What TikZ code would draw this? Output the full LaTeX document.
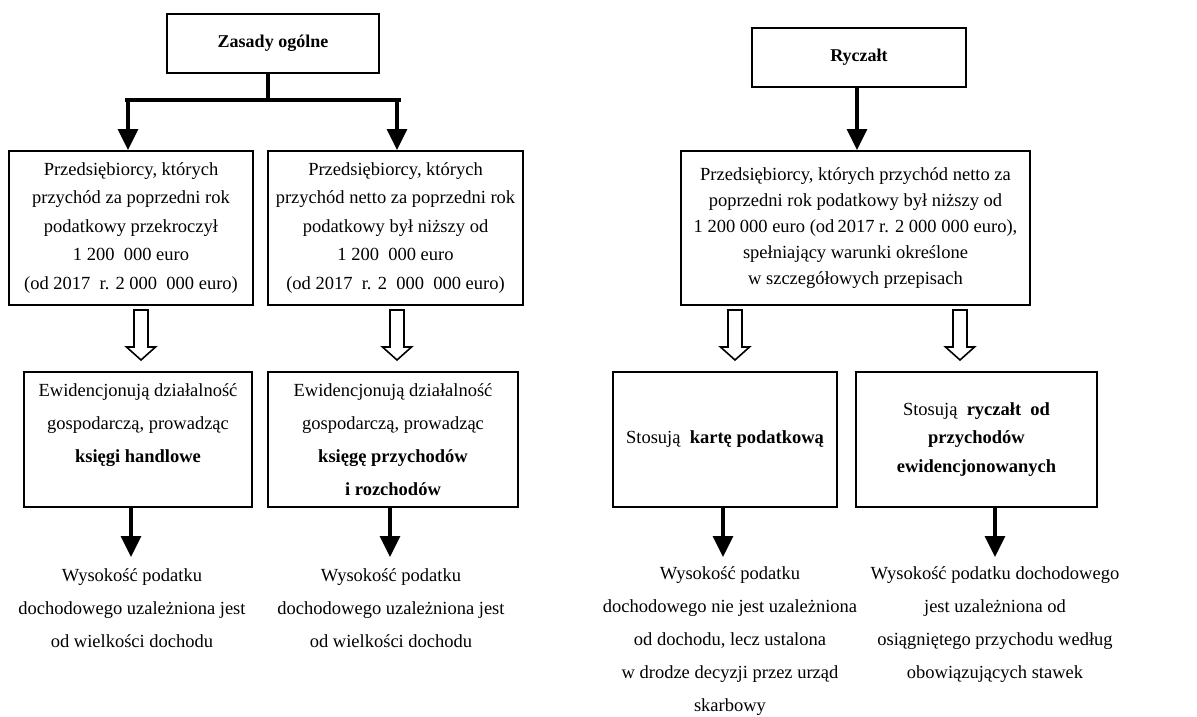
\documentclass[tikz,border=0pt]{standalone}
\usepackage{fontspec}
\setmainfont{Liberation Serif}
\usetikzlibrary{arrows.meta}
\tikzset{
  box/.style={draw, line width=2pt, align=center, inner sep=0pt},
  title/.style={box, font=\fontsize{18}{20}\selectfont\bfseries},
  conn/.style={line width=3.2pt},
  arr/.style={line width=3.2pt, -{Triangle[width=20pt,length=21pt]}},
  hollowarrow/.style={line width=1.6pt, fill=white},
  plain/.style={align=center, inner sep=0pt}
}
\newcommand\hollowdown[3]{%
  \draw[hollowarrow] (#1-7,#2) -- (#1+7,#2) -- (#1+7,#3-13) -- (#1+14.5,#3-13)
    -- (#1,#3) -- (#1-14.5,#3-13) -- (#1-7,#3-13) -- cycle;}
\begin{document}
\begin{tikzpicture}[x=1pt,y=-1pt]
\useasboundingbox (0,0) rectangle (1197,717);
% top boxes
\node[title, minimum width=212pt, minimum height=59pt] (Z) at (273,43.5) {Zasady ogólne};
\node[title, minimum width=214pt, minimum height=59pt] (RY) at (859,57.5) {Ryczałt};
% second row
\node[box, minimum width=244pt, minimum height=154pt, font=\fontsize{18.5}{28.5}\selectfont] (A1) at (131,228)
 {Przedsiębiorcy, których\\przychód za poprzedni rok\\podatkowy przekroczył\\1 200~ 000 euro\\(od 2017~ r. 2 000~ 000 euro)};
\node[box, minimum width=255pt, minimum height=154pt, font=\fontsize{18.5}{28.5}\selectfont] (A2) at (395.5,228)
 {Przedsiębiorcy, których\\przychód netto za poprzedni rok\\podatkowy był niższy od\\1 200~ 000 euro\\(od 2017~ r. 2~ 000~ 000 euro)};
\node[box, minimum width=349pt, minimum height=154pt, font=\fontsize{18.5}{26}\selectfont] (R) at (855.5,228)
 {Przedsiębiorcy, których przychód netto za\\poprzedni rok podatkowy był niższy od\\1 200 000 euro (od\,2017 r. 2 000 000 euro),\\spełniający warunki określone\\w szczegółowych przepisach};
% third row
\node[box, minimum width=228pt, minimum height=135pt, font=\fontsize{18.5}{33}\selectfont] (B1) at (138,439.5)
 {Ewidencjonują działalność\\gospodarczą, prowadząc\\\textbf{księgi handlowe}\\~};
\node[box, minimum width=250pt, minimum height=135pt, font=\fontsize{18.5}{33}\selectfont] (B2) at (393,439.5)
 {Ewidencjonują działalność\\gospodarczą, prowadząc\\\textbf{księgę przychodów}\\\textbf{i rozchodów}};
\node[box, minimum width=224pt, minimum height=135pt, font=\fontsize{18.5}{28.5}\selectfont] (C1) at (725,439.5)
 {Stosują~ \textbf{kartę podatkową}};
\node[box, minimum width=241pt, minimum height=135pt, font=\fontsize{18.5}{28.5}\selectfont] (C2) at (976.5,439.5)
 {Stosują~ \textbf{ryczałt~ od}\\\textbf{przychodów}\\\textbf{ewidencjonowanych}};
% bottom texts
\node[plain, font=\fontsize{18.5}{33}\selectfont] (T1) at (132,608)
 {Wysokość podatku\\dochodowego uzależniona jest\\od wielkości dochodu};
\node[plain, font=\fontsize{18.5}{33}\selectfont] (T2) at (391,608)
 {Wysokość podatku\\dochodowego uzależniona jest\\od wielkości dochodu};
\node[plain, font=\fontsize{18.5}{33}\selectfont] (T3) at (730,641)
 {Wysokość podatku\\dochodowego nie jest uzależniona\\od dochodu, lecz ustalona\\w drodze decyzji przez urząd\\skarbowy};
\node[plain, font=\fontsize{18.5}{33}\selectfont] (T4) at (995,624.5)
 {Wysokość podatku dochodowego\\jest uzależniona od\\osiągniętego przychodu według\\obowiązujących stawek};
% connectors from top
\coordinate (barL) at (125,100);
\coordinate (barR) at (401,100);
\coordinate (bar1) at (128,100);
\coordinate (bar2) at (397,100);
\draw[conn] (Z.south -| 268,0) -- (268,100);
\draw[conn] (barL) -- (barR);
\draw[arr] (bar1) -- (bar1 |- A1.north);
\draw[arr] (bar2) -- (bar2 |- A2.north);
\draw[arr] (857,0 |- RY.south) -- (857,0 |- R.north);
% hollow arrows
\hollowdown{141}{310}{360}
\hollowdown{397}{310}{360}
\hollowdown{735}{310}{360}
\hollowdown{960}{310}{360}
% solid arrows to bottom texts
\draw[arr] (131,0 |- B1.south) -- (131,557);
\draw[arr] (390,0 |- B2.south) -- (390,557);
\draw[arr] (723,0 |- C1.south) -- (723,557);
\draw[arr] (995,0 |- C2.south) -- (995,557);
\end{tikzpicture}
\end{document}
